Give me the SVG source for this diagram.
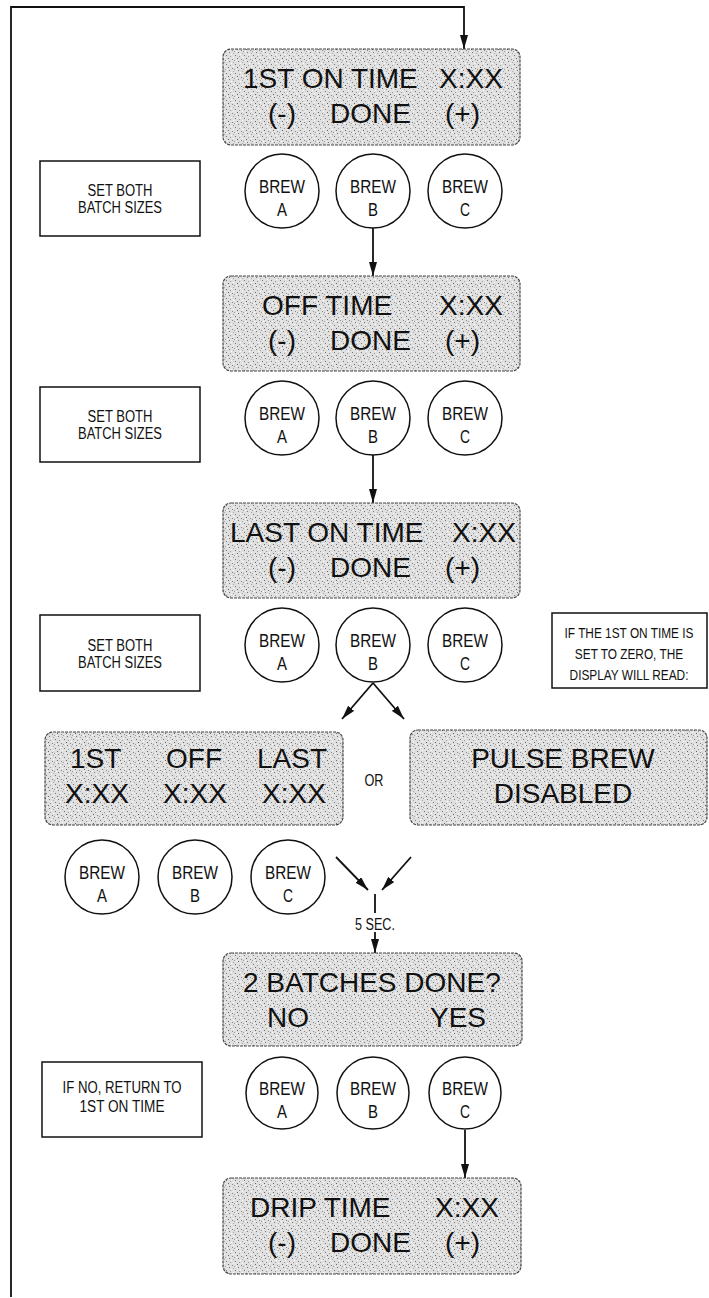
<svg xmlns="http://www.w3.org/2000/svg" width="709" height="1298" viewBox="0 0 709 1298">
<style>
.disp{fill:url(#stip);stroke:#444;stroke-width:1.2;stroke-dasharray:3 1}
.big{font-family:"Liberation Sans",Arial,sans-serif;font-size:28px;fill:#111}
.sm{font-family:"Liberation Sans",Arial,sans-serif;font-size:16px;fill:#111}
.btn{font-family:"Liberation Sans",Arial,sans-serif;font-size:19px;fill:#111;text-anchor:middle}
.note{fill:#fff;stroke:#111;stroke-width:1.5}
.circ{fill:#fff;stroke:#111;stroke-width:1.5}
.con{fill:none;stroke:#111;stroke-width:1.8}
.mid{text-anchor:middle}
</style>
<defs>
<pattern id="stip" width="9" height="9" patternUnits="userSpaceOnUse">
<rect width="9" height="9" fill="#e0e0e0"/>
<rect x="1" y="1" width="1" height="1" fill="#777"/>
<rect x="5" y="2" width="1" height="1" fill="#999"/>
<rect x="3" y="4" width="1" height="1" fill="#666"/>
<rect x="7" y="5" width="1" height="1" fill="#888"/>
<rect x="0" y="6" width="1" height="1" fill="#999"/>
<rect x="4" y="7" width="1" height="1" fill="#777"/>
<rect x="8" y="8" width="1" height="1" fill="#aaa"/>
<rect x="6" y="0" width="1" height="1" fill="#fff"/>
<rect x="2" y="6" width="1" height="1" fill="#fff"/>
<rect x="8" y="3" width="1" height="1" fill="#fff"/>
</pattern>
<marker id="ah" viewBox="0 0 14 8" refX="14" refY="4" markerWidth="14" markerHeight="8" markerUnits="userSpaceOnUse" orient="auto">
<path d="M0,0 L14,4 L0,8 z" fill="#111"/>
</marker>
</defs>
<rect width="709" height="1298" fill="#fff"/>

<g id="connectors">
<path class="con" d="M11,1297 V7 H464 V49" marker-end="url(#ah)"/>
<path class="con" d="M373,228 V276" marker-end="url(#ah)"/>
<path class="con" d="M373,455 V503" marker-end="url(#ah)"/>
<path class="con" d="M373,683 L342,719" marker-end="url(#ah)"/>
<path class="con" d="M373,683 L404,719" marker-end="url(#ah)"/>
<path class="con" d="M336,857 L368,890" marker-end="url(#ah)"/>
<path class="con" d="M411,857 L382,890" marker-end="url(#ah)"/>
<path class="con" d="M375,894 V913"/>
<path class="con" d="M375,932 V953" marker-end="url(#ah)"/>
<path class="con" d="M465,1130 V1178" marker-end="url(#ah)"/>
<text class="sm mid" x="375" y="930" textLength="40" lengthAdjust="spacingAndGlyphs">5 SEC.</text>
</g>

<g id="disp1">
<rect class="disp" x="223" y="49" width="297" height="96" rx="8"/>
<text class="big" x="243" y="88">1ST ON TIME</text>
<text class="big" x="439" y="88">X:XX</text>
<text class="big" x="268" y="123">(-)</text>
<text class="big" x="330" y="123">DONE</text>
<text class="big" x="445" y="123">(+)</text>
</g>
<g id="note1">
<rect class="note" x="40" y="161" width="160" height="75"/>
<text class="sm mid" x="120" y="196" textLength="65" lengthAdjust="spacingAndGlyphs">SET BOTH</text>
<text class="sm mid" x="120" y="213" textLength="84" lengthAdjust="spacingAndGlyphs">BATCH SIZES</text>
</g>
<g id="row1a"><circle class="circ" cx="282" cy="191" r="37"/><text class="btn" x="282" y="193" textLength="46" lengthAdjust="spacingAndGlyphs">BREW</text><text class="btn" x="282" y="216" textLength="10" lengthAdjust="spacingAndGlyphs">A</text></g>
<g id="row1b"><circle class="circ" cx="373" cy="191" r="37"/><text class="btn" x="373" y="193" textLength="46" lengthAdjust="spacingAndGlyphs">BREW</text><text class="btn" x="373" y="216" textLength="10" lengthAdjust="spacingAndGlyphs">B</text></g>
<g id="row1c"><circle class="circ" cx="465" cy="191" r="37"/><text class="btn" x="465" y="193" textLength="46" lengthAdjust="spacingAndGlyphs">BREW</text><text class="btn" x="465" y="216" textLength="10" lengthAdjust="spacingAndGlyphs">C</text></g>

<g id="disp2">
<rect class="disp" x="223" y="276" width="297" height="95" rx="8"/>
<text class="big" x="262" y="315">OFF TIME</text>
<text class="big" x="439" y="315">X:XX</text>
<text class="big" x="268" y="350">(-)</text>
<text class="big" x="330" y="350">DONE</text>
<text class="big" x="445" y="350">(+)</text>
</g>
<g id="note2">
<rect class="note" x="40" y="387" width="160" height="75"/>
<text class="sm mid" x="120" y="422" textLength="65" lengthAdjust="spacingAndGlyphs">SET BOTH</text>
<text class="sm mid" x="120" y="439" textLength="84" lengthAdjust="spacingAndGlyphs">BATCH SIZES</text>
</g>
<g id="row2a"><circle class="circ" cx="282" cy="418" r="37"/><text class="btn" x="282" y="420" textLength="46" lengthAdjust="spacingAndGlyphs">BREW</text><text class="btn" x="282" y="443" textLength="10" lengthAdjust="spacingAndGlyphs">A</text></g>
<g id="row2b"><circle class="circ" cx="373" cy="418" r="37"/><text class="btn" x="373" y="420" textLength="46" lengthAdjust="spacingAndGlyphs">BREW</text><text class="btn" x="373" y="443" textLength="10" lengthAdjust="spacingAndGlyphs">B</text></g>
<g id="row2c"><circle class="circ" cx="465" cy="418" r="37"/><text class="btn" x="465" y="420" textLength="46" lengthAdjust="spacingAndGlyphs">BREW</text><text class="btn" x="465" y="443" textLength="10" lengthAdjust="spacingAndGlyphs">C</text></g>

<g id="disp3">
<rect class="disp" x="223" y="503" width="297" height="95" rx="8"/>
<text class="big" x="230" y="542">LAST ON TIME</text>
<text class="big" x="452" y="542">X:XX</text>
<text class="big" x="268" y="577">(-)</text>
<text class="big" x="330" y="577">DONE</text>
<text class="big" x="445" y="577">(+)</text>
</g>
<g id="note3">
<rect class="note" x="40" y="615" width="160" height="76"/>
<text class="sm mid" x="120" y="651" textLength="65" lengthAdjust="spacingAndGlyphs">SET BOTH</text>
<text class="sm mid" x="120" y="668" textLength="84" lengthAdjust="spacingAndGlyphs">BATCH SIZES</text>
</g>
<g id="row3a"><circle class="circ" cx="282" cy="645" r="37"/><text class="btn" x="282" y="647" textLength="46" lengthAdjust="spacingAndGlyphs">BREW</text><text class="btn" x="282" y="670" textLength="10" lengthAdjust="spacingAndGlyphs">A</text></g>
<g id="row3b"><circle class="circ" cx="373" cy="645" r="37"/><text class="btn" x="373" y="647" textLength="46" lengthAdjust="spacingAndGlyphs">BREW</text><text class="btn" x="373" y="670" textLength="10" lengthAdjust="spacingAndGlyphs">B</text></g>
<g id="row3c"><circle class="circ" cx="465" cy="645" r="37"/><text class="btn" x="465" y="647" textLength="46" lengthAdjust="spacingAndGlyphs">BREW</text><text class="btn" x="465" y="670" textLength="10" lengthAdjust="spacingAndGlyphs">C</text></g>
<g id="note4">
<rect class="note" x="552" y="613" width="155" height="75"/>
<text class="sm mid" transform="translate(629,638) scale(0.79,1)" x="0" y="0" style="font-size:15px">IF THE 1ST ON TIME IS</text>
<text class="sm mid" transform="translate(629,659) scale(0.79,1)" x="0" y="0" style="font-size:15px">SET TO ZERO, THE</text>
<text class="sm mid" transform="translate(629,680) scale(0.79,1)" x="0" y="0" style="font-size:15px">DISPLAY WILL READ:</text>
</g>

<g id="disp4">
<rect class="disp" x="45" y="732" width="298" height="93" rx="8"/>
<text class="big" x="70" y="768">1ST</text>
<text class="big" x="166" y="768">OFF</text>
<text class="big" x="257" y="768">LAST</text>
<text class="big" x="65" y="803">X:XX</text>
<text class="big" x="163" y="803">X:XX</text>
<text class="big" x="262" y="803">X:XX</text>
</g>
<g id="or"><text class="sm mid" x="374" y="786" textLength="19" lengthAdjust="spacingAndGlyphs">OR</text></g>
<g id="disp5">
<rect class="disp" x="410" y="730" width="297" height="95" rx="8"/>
<text class="big mid" x="563" y="768">PULSE BREW</text>
<text class="big mid" x="563" y="803">DISABLED</text>
</g>

<g id="row4a"><circle class="circ" cx="102" cy="877" r="37"/><text class="btn" x="102" y="879" textLength="46" lengthAdjust="spacingAndGlyphs">BREW</text><text class="btn" x="102" y="902" textLength="10" lengthAdjust="spacingAndGlyphs">A</text></g>
<g id="row4b"><circle class="circ" cx="195" cy="877" r="37"/><text class="btn" x="195" y="879" textLength="46" lengthAdjust="spacingAndGlyphs">BREW</text><text class="btn" x="195" y="902" textLength="10" lengthAdjust="spacingAndGlyphs">B</text></g>
<g id="row4c"><circle class="circ" cx="288" cy="877" r="37"/><text class="btn" x="288" y="879" textLength="46" lengthAdjust="spacingAndGlyphs">BREW</text><text class="btn" x="288" y="902" textLength="10" lengthAdjust="spacingAndGlyphs">C</text></g>

<g id="disp6">
<rect class="disp" x="223" y="953" width="299" height="93" rx="8"/>
<text class="big" x="243" y="992">2 BATCHES DONE?</text>
<text class="big" x="267" y="1027">NO</text>
<text class="big" x="430" y="1027">YES</text>
</g>
<g id="note5">
<rect class="note" x="42" y="1062" width="160" height="75"/>
<text class="sm mid" x="122" y="1093" textLength="119" lengthAdjust="spacingAndGlyphs">IF NO, RETURN TO</text>
<text class="sm mid" x="122" y="1112" textLength="85" lengthAdjust="spacingAndGlyphs">1ST ON TIME</text>
</g>
<g id="row5a"><circle class="circ" cx="282" cy="1093" r="36"/><text class="btn" x="282" y="1095" textLength="46" lengthAdjust="spacingAndGlyphs">BREW</text><text class="btn" x="282" y="1118" textLength="10" lengthAdjust="spacingAndGlyphs">A</text></g>
<g id="row5b"><circle class="circ" cx="373" cy="1093" r="36"/><text class="btn" x="373" y="1095" textLength="46" lengthAdjust="spacingAndGlyphs">BREW</text><text class="btn" x="373" y="1118" textLength="10" lengthAdjust="spacingAndGlyphs">B</text></g>
<g id="row5c"><circle class="circ" cx="465" cy="1093" r="36"/><text class="btn" x="465" y="1095" textLength="46" lengthAdjust="spacingAndGlyphs">BREW</text><text class="btn" x="465" y="1118" textLength="10" lengthAdjust="spacingAndGlyphs">C</text></g>

<g id="disp7">
<rect class="disp" x="223" y="1178" width="298" height="96" rx="8"/>
<text class="big" x="250" y="1217">DRIP TIME</text>
<text class="big" x="435" y="1217">X:XX</text>
<text class="big" x="268" y="1252">(-)</text>
<text class="big" x="330" y="1252">DONE</text>
<text class="big" x="445" y="1252">(+)</text>
</g>
</svg>
